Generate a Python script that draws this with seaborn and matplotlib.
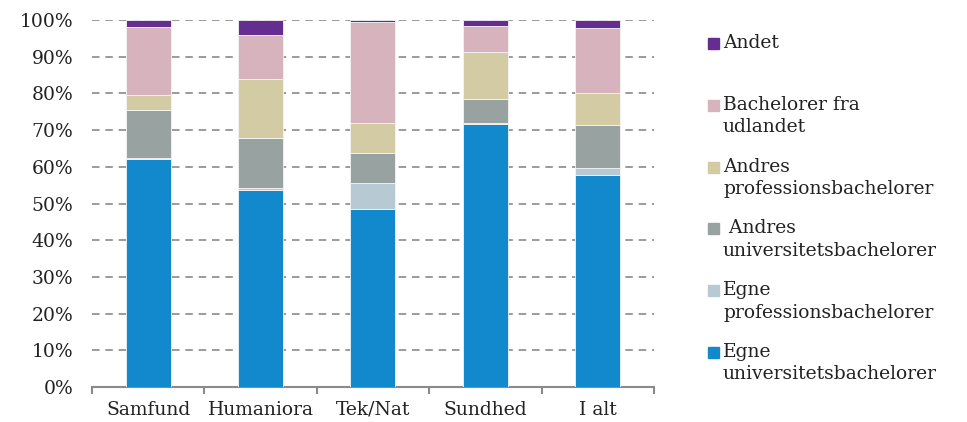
import numpy as np
import pandas as pd
import matplotlib
matplotlib.use("Agg")
import matplotlib.pyplot as plt
import seaborn as sns
from matplotlib.patches import Rectangle

sns.set_theme(style="white")
plt.rcParams["font.family"] = ["DejaVu Serif"]

# ── Data (share in %) ─────────────────────────────────────
kategorier = ["Samfund", "Humaniora", "Tek/Nat", "Sundhed", "I alt"]
egne_univ = [62.0, 53.7, 48.5, 71.8, 57.8]
egne_prof = [0.4, 0.5, 7.0, 0.2, 2.0]
andres_univ = [13.2, 13.6, 8.2, 6.4, 11.5]
andres_prof = [4.0, 16.0, 8.3, 12.8, 8.9]
udlandet = [18.4, 12.2, 27.5, 7.1, 17.7]
andet = [2.0, 4.0, 0.5, 1.7, 2.1]

serier = [
    ("Egne\nuniversitetsbachelorer", egne_univ, "#1289cc"),
    ("Egne\nprofessionsbachelorer", egne_prof, "#b7c9d3"),
    (" Andres\nuniversitetsbachelorer", andres_univ, "#97a2a1"),
    ("Andres\nprofessionsbachelorer", andres_prof, "#d3cba4"),
    ("Bachelorer fra\nudlandet", udlandet, "#d6b3bd"),
    ("Andet", andet, "#662d91"),
]

fig = plt.figure(figsize=(9.67, 4.22), dpi=100)
ax = fig.add_axes([0.0951, 0.0829, 0.5812, 0.8697])

bund = np.zeros(len(kategorier))
for navn, vals, farve in serier:
    sns.barplot(x=kategorier, y=vals, bottom=bund, color=farve, width=0.4,
                saturation=1, edgecolor="#f4f4f4", linewidth=0.6, ax=ax, zorder=3)
    bund = bund + np.array(vals)

ax.set_ylim(0, 100)
ax.set_xlim(-0.5, len(kategorier) - 0.5)
ax.set_yticks(range(0, 101, 10))
ax.set_yticklabels([f"{v}%" for v in range(0, 101, 10)])
ax.yaxis.grid(True, color="#8a8a8a", linestyle=(0, (4.5, 3.5)), linewidth=1.2, zorder=0)
ax.xaxis.grid(False)
ax.set_axisbelow(True)

for s in ["top", "right", "left"]:
    ax.spines[s].set_visible(False)
ax.spines["bottom"].set_color("#8a8a8a")
ax.spines["bottom"].set_linewidth(1.5)

ax.set_xticks(range(len(kategorier)))
ax.set_xticklabels(kategorier)
ax.set_xticks(np.arange(-0.5, len(kategorier)), minor=True)
ax.tick_params(axis="x", which="major", length=0, pad=10, labelsize=13.5, labelcolor="#222222")
ax.tick_params(axis="x", which="minor", bottom=True, length=5, width=1.5,
               color="#8a8a8a", direction="out")
ax.tick_params(axis="y", length=0, pad=13.5, labelsize=13.5, labelcolor="#222222")
ax.set_xlabel(""); ax.set_ylabel("")

# ── Legend (manual, top = Andet) ──────────────────────────
W, H = 967, 422
for i, (navn, vals, farve) in enumerate(reversed(serier)):
    base = 49 + i * 61.8
    fig.patches.append(Rectangle((708 / W, (H - base) / H), 11 / W, 11 / H,
                                 transform=fig.transFigure, color=farve))
    fig.text(723 / W, (H - base + 15) / H, navn, fontsize=13.5, color="#222222",
             va="top", ha="left", linespacing=1.32)

plt.savefig("out.png", dpi=100)
plt.close()
